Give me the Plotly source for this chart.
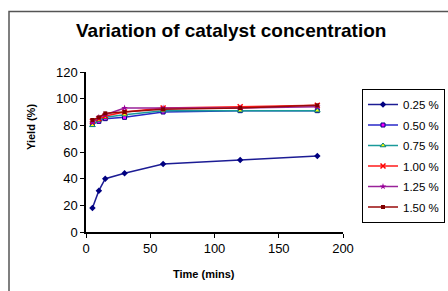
import plotly.graph_objects as go

time_min = [5, 10, 15, 30, 60, 120, 180]
series_names = ["0.25 %", "0.50 %", "0.75 %", "1.00 %", "1.25 %", "1.50 %"]
yield_025 = [18, 31, 40, 44, 51, 54, 57]
yield_050 = [81, 83, 85, 86, 90, 91, 91]
yield_075 = [80, 84, 86, 88, 91, 91, 91]
yield_100 = [83, 85, 87, 90, 93, 94, 95]
yield_125 = [82, 86, 88, 93, 93, 93, 94]
yield_150 = [84, 86, 89, 90, 92, 93, 95]

all_series = [yield_025, yield_050, yield_075, yield_100, yield_125, yield_150]
line_colors = ["#1c1c94", "#2828c8", "#1a9a9a", "#ff1a1a", "#992299", "#990a0a"]
marker_styles = [
    dict(symbol="diamond", size=5, color="#000080"),
    dict(symbol="square", size=4, color="#ff00ff", line=dict(color="#000080", width=1)),
    dict(symbol="triangle-up", size=5, color="#ffff00", line=dict(color="#008080", width=1)),
    dict(symbol="x-thin", size=5, color="#ff0000", line=dict(color="#ff0000", width=1.5)),
    dict(symbol="star", size=5, color="#990099"),
    dict(symbol="square", size=4, color="#800000"),
]

fig = go.Figure()
for i, (name, vals, col, mk) in enumerate(zip(series_names, all_series, line_colors, marker_styles)):
    fig.add_trace(go.Scatter(x=time_min, y=vals, name=name, mode="lines+markers",
                             legendgroup=f"g{i}",
                             line=dict(color=col, width=1.5), marker=mk))

fnt = "Liberation Sans, Arial, sans-serif"
fig.update_layout(
    width=448, height=291,
    margin=dict(l=86, r=105, t=72, b=59, autoexpand=False),
    paper_bgcolor="white", plot_bgcolor="white",
    font=dict(family=fnt, size=12, color="black"),
    showlegend=True,
    legend=dict(x=(362 - 86) / 257, y=(232 - 89) / 160, xanchor="left", yanchor="top",
                bordercolor="black", borderwidth=1, bgcolor="white",
                font=dict(size=11.5, family=fnt), itemwidth=30,
                traceorder="grouped", tracegroupgap=1.5),
    xaxis=dict(range=[0, 200], dtick=50, showgrid=False, zeroline=False,
               showline=True, linecolor="black", linewidth=1.5,
               ticks="outside", ticklen=4, tickcolor="black",
               tickfont=dict(size=13)),
    yaxis=dict(range=[0, 120], dtick=20, showgrid=False, zeroline=False,
               showline=True, linecolor="black", linewidth=1.5,
               ticks="outside", ticklen=4, tickcolor="black",
               tickfont=dict(size=13)),
    annotations=[
        dict(text="<b>Variation of catalyst concentration</b>", xref="paper", yref="paper",
             x=(231 - 86) / 257, y=(232 - 30) / 160, xanchor="center", yanchor="middle",
             showarrow=False, font=dict(size=19, family=fnt)),
        dict(text="<b>Time (mins)</b>", xref="paper", yref="paper",
             x=(204 - 86) / 257, y=(232 - 274) / 160, xanchor="center", yanchor="middle",
             showarrow=False, font=dict(size=11, family=fnt)),
        dict(text="<b>Yield (%)</b>", xref="paper", yref="paper",
             x=(31 - 86) / 257, y=(232 - 127) / 160, xanchor="center", yanchor="middle",
             textangle=-90, showarrow=False, font=dict(size=11, family=fnt)),
    ],
    shapes=[
        dict(type="rect", xref="paper", yref="paper",
             x0=(9 - 86) / 257, x1=(470 - 86) / 257,
             y0=(232 - 310) / 160, y1=(232 - 11.5) / 160,
             line=dict(color="#555555", width=1.5), fillcolor="rgba(0,0,0,0)", layer="below"),
    ],
)

fig.write_html("out.html", config={"displayModeBar": False},
               post_script="document.body.style.margin='0px';document.body.style.overflow='hidden';")
